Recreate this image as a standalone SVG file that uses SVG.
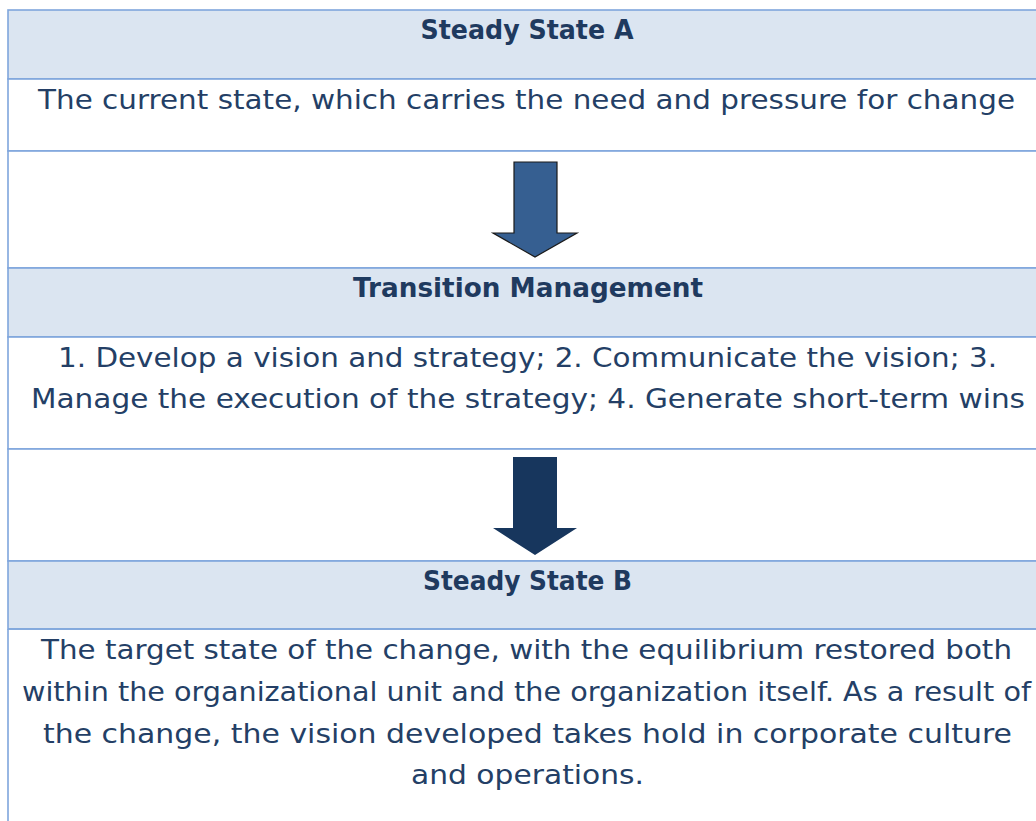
<svg xmlns="http://www.w3.org/2000/svg" width="1036" height="821" viewBox="0 0 1036 821">
<style>
.hdr{fill:#dbe5f1;stroke:#7fa6dc;stroke-width:1.6}
.cell{fill:#ffffff;stroke:#7fa6dc;stroke-width:1.6}
.h{font-family:"DejaVu Sans",sans-serif;font-weight:bold;font-size:27px;fill:#1f3a5f;text-anchor:middle}
.t{font-family:"DejaVu Sans",sans-serif;font-size:27px;fill:#243f66;text-anchor:middle}
</style>
<rect width="1036" height="821" fill="#ffffff"/>
<g id="steady-state-a">
<rect class="hdr" x="8" y="10" width="1040" height="69"/>
<text class="h" x="527" y="39" textLength="213" lengthAdjust="spacingAndGlyphs">Steady State A</text>
<rect class="cell" x="8" y="79" width="1040" height="72"/>
<text class="t" x="526.5" y="109" textLength="977" lengthAdjust="spacingAndGlyphs">The current state, which carries the need and pressure for change</text>
</g>
<g id="arrow-row-1">
<rect class="cell" x="8" y="151" width="1040" height="117"/>
</g>
<g id="transition-management">
<rect class="hdr" x="8" y="268" width="1040" height="69"/>
<text class="h" x="528" y="297" textLength="350" lengthAdjust="spacingAndGlyphs">Transition Management</text>
<rect class="cell" x="8" y="337" width="1040" height="112"/>
<text class="t" x="527.5" y="367" textLength="939" lengthAdjust="spacingAndGlyphs">1. Develop a vision and strategy; 2. Communicate the vision; 3.</text>
<text class="t" x="528" y="408" textLength="994" lengthAdjust="spacingAndGlyphs">Manage the execution of the strategy; 4. Generate short-term wins</text>
</g>
<g id="arrow-row-2">
<rect class="cell" x="8" y="449" width="1040" height="112"/>
</g>
<g id="steady-state-b">
<rect class="hdr" x="8" y="561" width="1040" height="68"/>
<text class="h" x="527.5" y="590" textLength="209" lengthAdjust="spacingAndGlyphs">Steady State B</text>
<path d="M8 629 H1048 M8 629 V830" fill="none" stroke="#7fa6dc" stroke-width="1.6"/>
<text class="t" x="526.5" y="659" textLength="971" lengthAdjust="spacingAndGlyphs">The target state of the change, with the equilibrium restored both</text>
<text class="t" x="526.5" y="701" textLength="1009" lengthAdjust="spacingAndGlyphs">within the organizational unit and the organization itself. As a result of</text>
<text class="t" x="527.5" y="743" textLength="969" lengthAdjust="spacingAndGlyphs">the change, the vision developed takes hold in corporate culture</text>
<text class="t" x="527.5" y="784" textLength="233" lengthAdjust="spacingAndGlyphs">and operations.</text>
</g>
<g id="connectors">
<polygon points="514,162 557,162 557,233 577,233 535,257 493,233 514,233" fill="#365f91" stroke="#1a1a1a" stroke-width="1.2" stroke-linejoin="miter"/>
<polygon points="513,457 557,457 557,528 577,528 535,555 493,528 513,528" fill="#17365d"/>
</g>
</svg>
